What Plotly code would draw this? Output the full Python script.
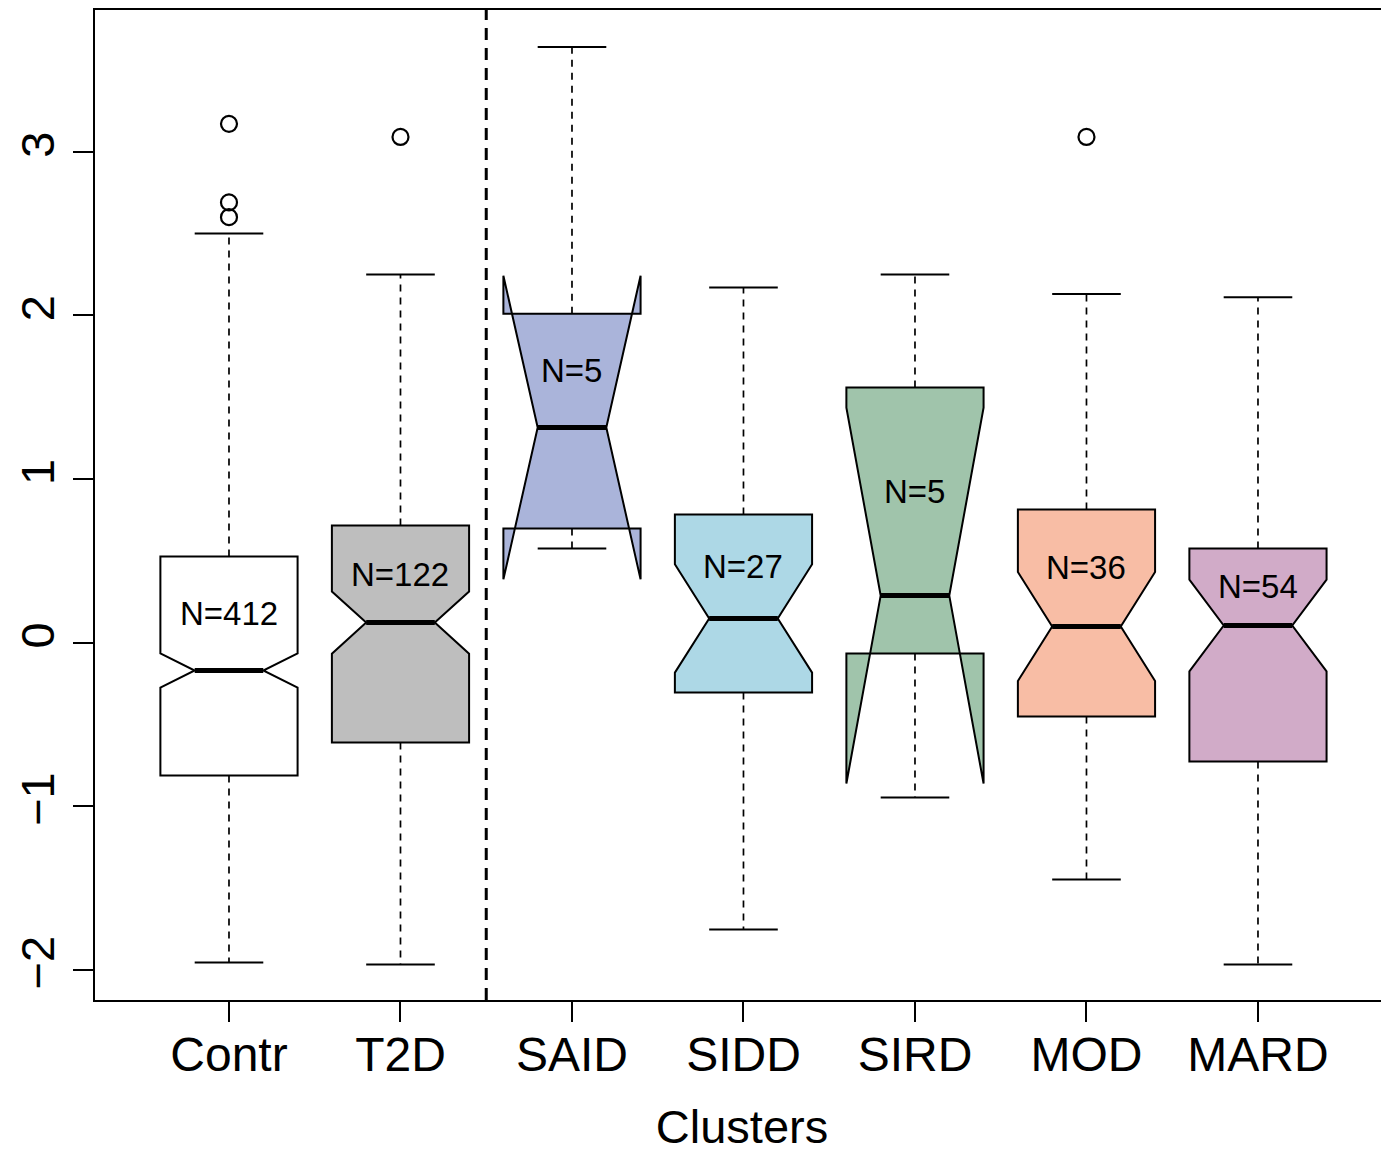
import plotly.graph_objects as go

clusters = ['Contr', 'T2D', 'SAID', 'SIDD', 'SIRD', 'MOD', 'MARD']
n_obs = [412, 122, 5, 27, 5, 36, 54]
whisker_low = [-1.956, -1.968, 0.575, -1.754, -0.947, -1.449, -1.968]
q1 = [-0.813, -0.611, 0.697, -0.306, -0.067, -0.452, -0.727]
median = [-0.171, 0.122, 1.314, 0.147, 0.287, 0.098, 0.104]
q3 = [0.526, 0.715, 2.010, 0.782, 1.559, 0.813, 0.575]
whisker_high = [2.500, 2.250, 3.640, 2.170, 2.250, 2.130, 2.110]
notch_half = [0.104, 0.190, 0.928, 0.331, 1.149, 0.333, 0.280]
fill_colors = ['#FFFFFF', '#BEBEBE', '#AAB4DA', '#ADD8E6', '#A0C4AB', '#F8BDA5', '#D1ABC8']

outlier_cluster = ['Contr', 'Contr', 'Contr', 'T2D', 'MOD']
outlier_value = [3.17, 2.69, 2.60, 3.09, 3.09]

font = 'Liberation Sans, Arial, sans-serif'
pos = list(range(1, len(clusters) + 1))
box_w = 0.8

fig = go.Figure()

# whiskers: dashed stems and solid staples
stem_x, stem_y, cap_x, cap_y = [], [], [], []
for p, lo, a, b, hi in zip(pos, whisker_low, q1, q3, whisker_high):
    stem_x += [p, p, None, p, p, None]
    stem_y += [b, hi, None, a, lo, None]
    cap_x += [p - box_w / 4, p + box_w / 4, None, p - box_w / 4, p + box_w / 4, None]
    cap_y += [hi, hi, None, lo, lo, None]

fig.add_trace(go.Scatter(x=stem_x, y=stem_y, mode='lines',
                         line=dict(color='black', width=1.7, dash='7px,6px'),
                         hoverinfo='skip', showlegend=False))
fig.add_trace(go.Scatter(x=cap_x, y=cap_y, mode='lines',
                         line=dict(color='black', width=2),
                         hoverinfo='skip', showlegend=False))

for i, name in enumerate(clusters):
    fig.add_trace(go.Box(
        x=[pos[i]], q1=[q1[i]], median=[median[i]], q3=[q3[i]],
        lowerfence=[q1[i]], upperfence=[q3[i]],
        notchspan=[notch_half[i]], notched=True, notchwidth=0.25,
        width=box_w, whiskerwidth=0,
        fillcolor=fill_colors[i], line=dict(color='black', width=2),
        boxpoints='outliers', name=name, showlegend=False
    ))

# thick median bars
med_x, med_y = [], []
for p, m in zip(pos, median):
    med_x += [p - box_w / 4, p + box_w / 4, None]
    med_y += [m, m, None]
fig.add_trace(go.Scatter(x=med_x, y=med_y, mode='lines',
                         line=dict(color='black', width=5),
                         hoverinfo='skip', showlegend=False))

fig.add_trace(go.Scatter(
    x=[pos[clusters.index(c)] for c in outlier_cluster], y=outlier_value,
    mode='markers',
    marker=dict(symbol='circle-open', size=16, color='black', line=dict(width=2.2)),
    showlegend=False))

for p, n, m, t in zip(pos, n_obs, median, q3):
    fig.add_annotation(x=p, y=(m + t) / 2, text=f'N={n}', showarrow=False,
                       font=dict(family=font, size=33, color='black'))

fig.add_shape(type='line', xref='x', yref='paper', x0=2.5, x1=2.5, y0=0, y1=1,
              line=dict(color='black', width=3, dash='12px,8px'))

fig.update_layout(
    width=1381, height=1145,
    margin=dict(l=87, r=0, t=2, b=153),
    plot_bgcolor='white', paper_bgcolor='white',
    font=dict(family=font, color='black'),
    xaxis=dict(
        range=[0.2187, 7.764], tickvals=pos, ticktext=clusters,
        ticks='outside', ticklen=20, tickwidth=2, tickcolor='black',
        showline=True, linewidth=2, linecolor='black', mirror=True,
        showgrid=False, zeroline=False,
        tickfont=dict(size=48), ticklabelstandoff=-9,
        title=dict(text='Clusters', font=dict(size=47), standoff=40)
    ),
    yaxis=dict(
        range=[-2.185, 3.866], tickvals=[-2, -1, 0, 1, 2, 3],
        tickangle=-90,
        ticks='outside', ticklen=20, tickwidth=2, tickcolor='black',
        showline=True, linewidth=2, linecolor='black',
        showgrid=False, zeroline=False,
        tickfont=dict(size=47)
    )
)

fig.write_html('out.html')
